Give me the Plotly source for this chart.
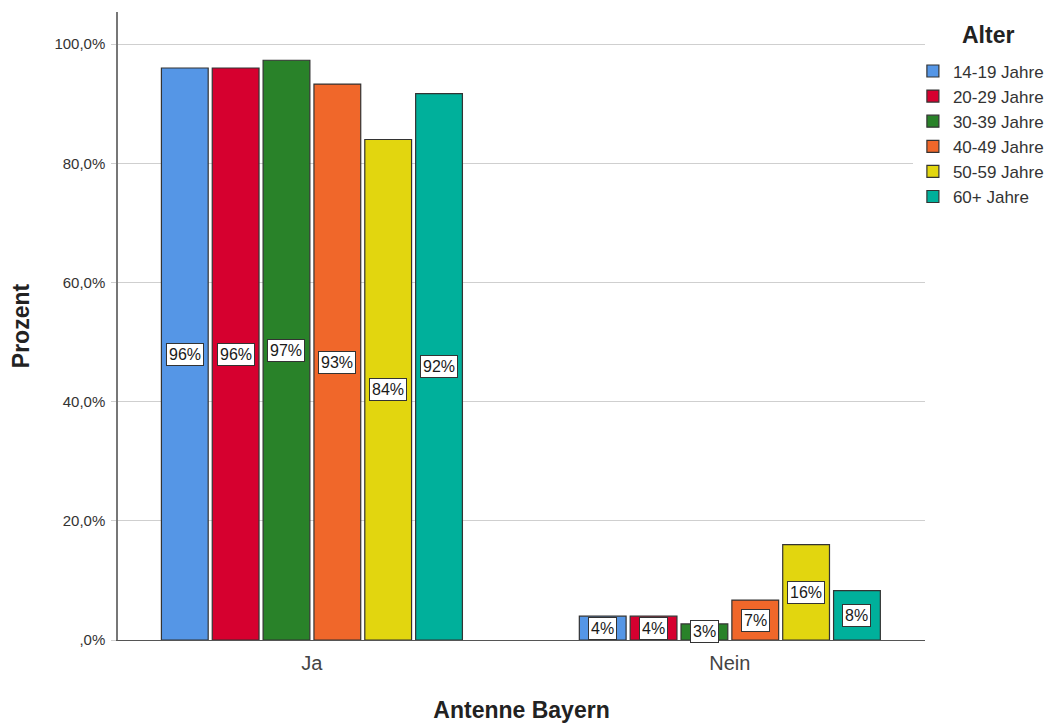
import plotly.graph_objects as go

categories = ["Ja", "Nein"]
groups = ["14-19 Jahre", "20-29 Jahre", "30-39 Jahre", "40-49 Jahre", "50-59 Jahre", "60+ Jahre"]
values = {
    "14-19 Jahre": [96.0, 4.0],
    "20-29 Jahre": [96.0, 4.0],
    "30-39 Jahre": [97.3, 2.7],
    "40-49 Jahre": [93.3, 6.7],
    "50-59 Jahre": [84.0, 16.0],
    "60+ Jahre": [91.7, 8.3],
}
labels = {
    "14-19 Jahre": ["96%", "4%"],
    "20-29 Jahre": ["96%", "4%"],
    "30-39 Jahre": ["97%", "3%"],
    "40-49 Jahre": ["93%", "7%"],
    "50-59 Jahre": ["84%", "16%"],
    "60+ Jahre": ["92%", "8%"],
}
colors = ["#5596e6", "#d6002f", "#298229", "#f0672a", "#e2d60f", "#00b09b"]
ytickvals = [0, 20, 40, 60, 80, 100]
yticktext = [",0%", "20,0%", "40,0%", "60,0%", "80,0%", "100,0%"]

FONT = "Liberation Sans, Arial, sans-serif"
group_width = 0.73
n = len(groups)
slot = group_width / n

fig = go.Figure()
annotations = []
for i, g in enumerate(groups):
    fig.add_trace(go.Bar(
        x=categories, y=values[g], name=g,
        marker=dict(color=colors[i], line=dict(color="#333333", width=1.2)),
    ))
    off = -group_width / 2 + (i + 0.5) * slot
    for j, c in enumerate(categories):
        annotations.append(dict(
            x=j + off, y=values[g][j] / 2, xref="x", yref="y",
            text=labels[g][j], showarrow=False,
            font=dict(family=FONT, size=16, color="#1a1a1a"),
            bgcolor="white", bordercolor="#333333", borderwidth=1, borderpad=2,
        ))

# legend title
annotations.append(dict(
    x=1.078, y=0.963, xref="paper", yref="paper", xanchor="center", yanchor="middle",
    text="<b>Alter</b>", showarrow=False,
    font=dict(family=FONT, size=23, color="#222222"),
))

fig.update_layout(
    width=1047, height=719,
    margin=dict(l=110, r=130, t=4, b=87),
    paper_bgcolor="white", plot_bgcolor="white",
    barmode="group", bargap=0.27, bargroupgap=0.08,
    font=dict(family=FONT, color="#333333"),
    annotations=annotations,
    legend=dict(
        x=0.985, xanchor="left", y=0.934, yanchor="top",
        font=dict(size=17, color="#333333"),
        itemwidth=30, tracegroupgap=0,
    ),
    xaxis=dict(
        range=[-0.464, 1.467], showgrid=False,
        showline=True, linecolor="#555555", linewidth=1,
        tickfont=dict(size=20, color="#444444"), ticks="", ticklabelstandoff=5,
        title=dict(text="<b>Antenne Bayern</b>", font=dict(size=23, color="#222222"), standoff=28),
    ),
    yaxis=dict(
        range=[0, 105.4], tickvals=ytickvals, ticktext=yticktext,
        showgrid=True, gridcolor="#cfcfcf", gridwidth=1,
        showline=True, linecolor="#777777", linewidth=1.5,
        zeroline=False, ticks="outside", ticklen=5, tickcolor="#cfcfcf",
        ticklabelstandoff=3,
        tickfont=dict(size=15, color="#333333"),
        title=dict(text="<b>Prozent</b>", font=dict(size=23, color="#222222"), standoff=18),
    ),
)

fig.write_html("out.html")
